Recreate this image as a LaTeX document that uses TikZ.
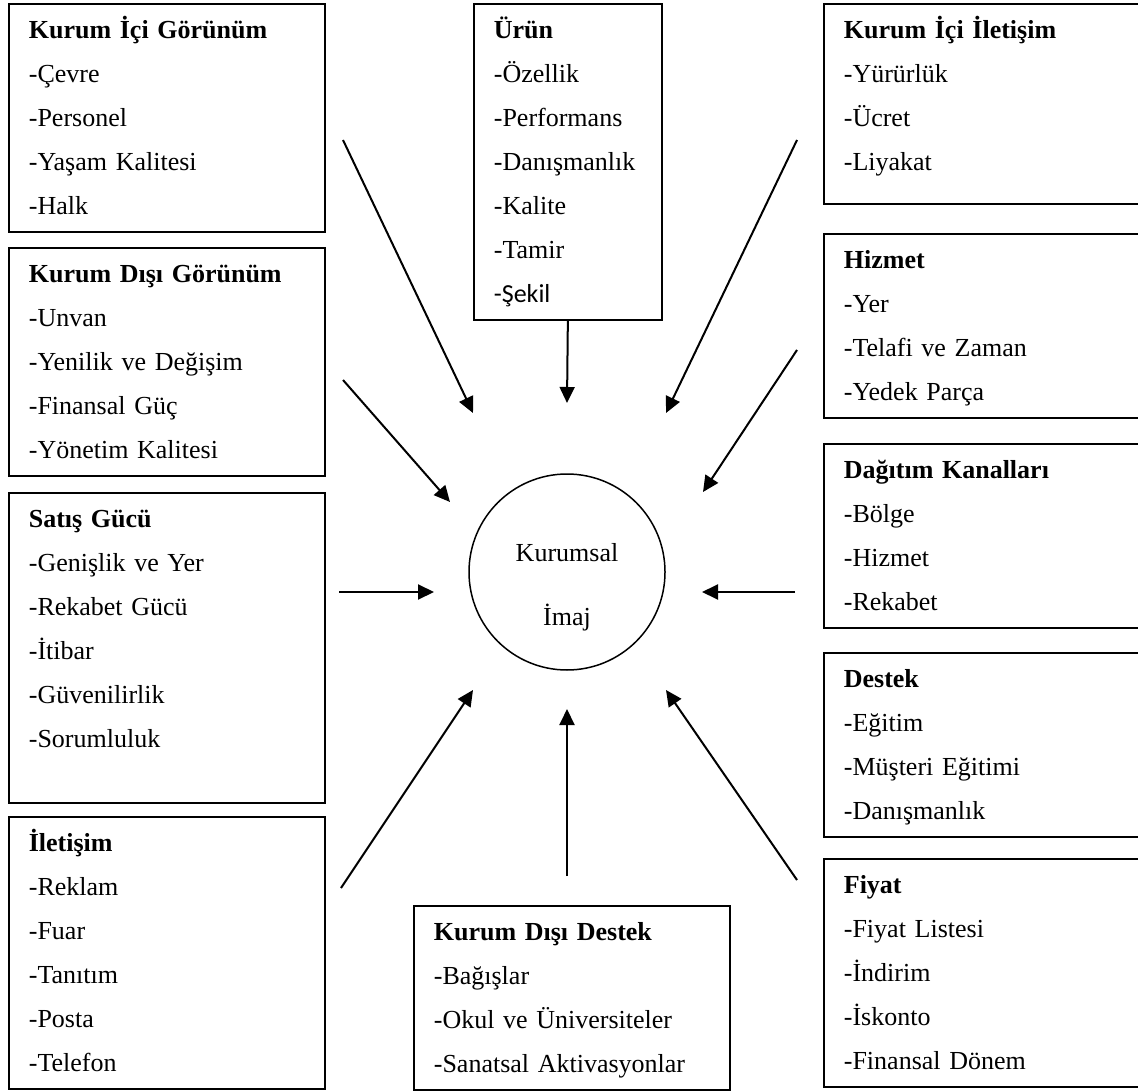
\documentclass[tikz,border=0pt]{standalone}
\usepackage{fontspec}
\setmainfont{Liberation Serif}
\newfontfamily\calibri{Carlito}
\usetikzlibrary{arrows.meta,positioning}

% extra room under the last line of a box
\newcommand{\vpad}[1]{\rule[-#1]{0pt}{#1}}

\begin{document}
\begin{tikzpicture}[x=0.5pt,y=-0.5pt,
   box/.style={draw,line width=0.85pt,anchor=north west,align=left,
      inner xsep=10pt,inner ysep=2pt,font=\fontsize{13}{22}\selectfont,
      execute at begin node=\strut,execute at end node=\strut},
   leftbox/.style={box,text width=138pt},
   rightbox/.style={box,text width=145pt},
   hub/.style={draw,circle,line width=0.75pt,minimum size=98pt,inner sep=0pt},
   into/.style={-{Triangle[length=8pt,width=7.5pt]},line width=1pt}]
\useasboundingbox (0,0) rectangle (1138,1090);
\clip (0,0) rectangle (1138,1090);

% left column
\node[leftbox] (kig) at (8,3) {\textbf{Kurum İçi Görünüm}\\-Çevre\\-Personel\\-Yaşam Kalitesi\\-Halk};
\node[leftbox] (kdg) at (8,247) {\textbf{Kurum Dışı Görünüm}\\-Unvan\\-Yenilik ve Değişim\\-Finansal Güç\\-Yönetim Kalitesi};
\node[leftbox] (satis) at (8,492) {\textbf{Satış Gücü}\\-Genişlik ve Yer\\-Rekabet Gücü\\-İtibar\\-Güvenilirlik\\-Sorumluluk\vpad{25.6pt}};
\node[leftbox] (iletisim) at (8,816) {\textbf{İletişim}\\-Reklam\\-Fuar\\-Tanıtım\\-Posta\\-Telefon};

% middle
\node[box,text width=74pt] (urun) at (473,3) {\textbf{Ürün}\\-Özellik\\-Performans\\-Danışmanlık\\-Kalite\\-Tamir\\{\calibri -Şekil}};
\node[box,text width=138pt] (kdd) at (413,905) {\textbf{Kurum Dışı Destek}\\-Bağışlar\\-Okul ve Üniversiteler\\-Sanatsal Aktivasyonlar};
\node[hub] (imaj) at (567,572) {};
\node[font=\fontsize{13}{32}\selectfont,align=center] (imajtxt) at ([yshift=-7.5pt]imaj.center) {Kurumsal\\İmaj};

% right column
\node[rightbox] (kii) at (823,3) {\textbf{Kurum İçi İletişim}\\-Yürürlük\\-Ücret\\-Liyakat\vpad{14.6pt}};
\node[rightbox] (hizmet) at (823,233) {\textbf{Hizmet}\\-Yer\\-Telafi ve Zaman\\-Yedek Parça};
\node[rightbox] (dagitim) at (823,443) {\textbf{Dağıtım Kanalları}\\-Bölge\\-Hizmet\\-Rekabet};
\node[rightbox] (destek) at (823,652) {\textbf{Destek}\\-Eğitim\\-Müşteri Eğitimi\\-Danışmanlık};
\node[rightbox] (fiyat) at (823,858) {\textbf{Fiyat}\\-Fiyat Listesi\\-İndirim\\-İskonto\\-Finansal Dönem};

% arrow ends
\coordinate (kigA) at (343,140);   \coordinate (kigB) at (473,413);
\coordinate (kdgA) at (343,380);   \coordinate (kdgB) at (450,502);
\coordinate (satisA) at (339,592); \coordinate (satisB) at (434,592);
\coordinate (iletA) at (341,888);  \coordinate (iletB) at (473,690);
\coordinate (kddA) at (567,876);   \coordinate (kddB) at (567,709);
\coordinate (fiyatA) at (797,880); \coordinate (fiyatB) at (666,690);
\coordinate (dagA) at (795,592);   \coordinate (dagB) at (702,592);
\coordinate (hizA) at (797,350);   \coordinate (hizB) at (703,492);
\coordinate (kiiA) at (797,140);   \coordinate (kiiB) at (666,413);
\coordinate (urunB) at (567,403);

\draw[into] (kigA) -- (kigB);
\draw[into] (kdgA) -- (kdgB);
\draw[into] (satisA) -- (satisB);
\draw[into] (iletA) -- (iletB);
\draw[into] (kddA) -- (kddB);
\draw[into] (fiyatA) -- (fiyatB);
\draw[into] (dagA) -- (dagB);
\draw[into] (hizA) -- (hizB);
\draw[into] (kiiA) -- (kiiB);
\draw[into] (urun.south) -- (urunB);
\end{tikzpicture}
\end{document}
